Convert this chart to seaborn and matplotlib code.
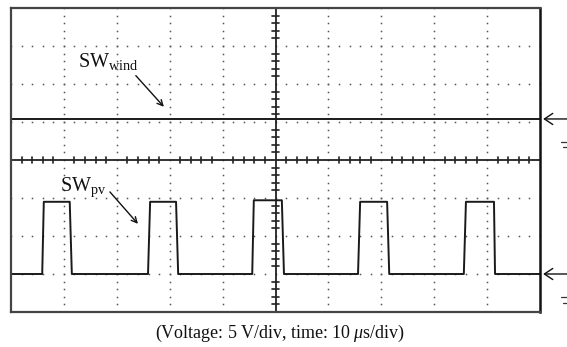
import numpy as np
import matplotlib
matplotlib.use("Agg")
import matplotlib.pyplot as plt
import matplotlib.transforms as mtransforms
import seaborn as sns

sns.set_style("white")
plt.rcParams["font.family"] = ["Liberation Serif", "DejaVu Serif"]
plt.rcParams["mathtext.fontset"] = "custom"
plt.rcParams["mathtext.rm"] = "Liberation Serif"
plt.rcParams["mathtext.it"] = "Liberation Serif:italic"

# Scope settings: 10 us/div over 10 divisions, 5 V/div over 8 divisions
time_per_div = 10.0
volt_per_div = 5.0
n_xdiv = 10
n_ydiv = 8

# Wind-side switching signal (held constant during the capture)
wind_time = [0.0, 100.0]
wind_level = [5.4, 5.4]

# PV-side switching pulses
pv_time = [0.0, 5.9, 6.2, 11.1, 11.5,
           25.9, 26.3, 31.2, 31.6,
           45.6, 45.9, 51.2, 51.6,
           65.6, 66.0, 71.1, 71.5,
           85.6, 86.0, 91.3, 91.5, 100.0]
pv_level = [-15.0, -15.0, -5.5, -5.5, -15.0,
            -15.0, -5.5, -5.5, -15.0,
            -15.0, -5.3, -5.3, -15.0,
            -15.0, -5.5, -5.5, -15.0,
            -15.0, -5.5, -5.5, -15.0, -15.0]

# Channel reference markers on the right edge
ref_levels = [5.4, -15.0]

caption = "(Voltage: 5\u2009V/div, time: 10\u2009$\\mu$s/div)"

W, H = 567, 347
fig = plt.figure(figsize=(W / 100, H / 100), dpi=100)
ax = fig.add_axes([11 / W, 1 - 312 / H, 529 / W, 304 / H])

xmax = time_per_div * n_xdiv
ymax = volt_per_div * n_ydiv / 2
ax.set_xlim(0, xmax)
ax.set_ylim(-ymax, ymax)
ax.set_xticks([])
ax.set_yticks([])

# Dotted graticule
dot_col = "#555555"
xs_major = np.arange(time_per_div, xmax, time_per_div)
ys_major = np.arange(-ymax + volt_per_div, ymax, volt_per_div)
x_fine = np.arange(0, xmax + 0.01, time_per_div / 5)
y_fine = np.arange(-ymax, ymax + 0.01, volt_per_div / 5)
for xv in xs_major:
    if abs(xv - xmax / 2) < 1e-6:
        continue
    ax.plot(np.full_like(y_fine, xv), y_fine, ls="none", marker="s",
            ms=1.1, mew=0, color=dot_col)
for yv in ys_major:
    if abs(yv) < 1e-6:
        continue
    ax.plot(x_fine, np.full_like(x_fine, yv), ls="none", marker="s",
            ms=1.1, mew=0, color=dot_col)

# Centre cross with minor ticks
ax.axhline(0, color="#222222", lw=1.3)
ax.axvline(xmax / 2, color="#222222", lw=1.3)
tick_h = 0.45
tick_w = 0.6
for xv in x_fine:
    if abs(xv / time_per_div - round(xv / time_per_div)) < 1e-6:
        continue
    ax.plot([xv, xv], [-tick_h, tick_h], color="#222222", lw=1.2)
for yv in y_fine:
    if abs(yv / volt_per_div - round(yv / volt_per_div)) < 1e-6:
        continue
    ax.plot([xmax / 2 - tick_w, xmax / 2 + tick_w], [yv, yv],
            color="#222222", lw=1.2)

# Traces
sns.lineplot(x=wind_time, y=wind_level, ax=ax, color="#1a1a1a", lw=1.4,
             estimator=None)
sns.lineplot(x=pv_time, y=pv_level, ax=ax, color="#1a1a1a", lw=1.4,
             estimator=None)

# Frame
for side in ["left", "top", "bottom"]:
    ax.spines[side].set_color("#444444")
    ax.spines[side].set_linewidth(1.6)
ax.spines["right"].set_color("#111111")
ax.spines["right"].set_linewidth(1.8)

# Signal labels with pointers
ax.text(12.7, 12.3, r"SW$_{\mathrm{wind}}$", fontsize=14.5, ha="left",
        va="baseline", color="#111111")
ax.annotate("", xy=(28.9, 7.0), xytext=(23.6, 11.1),
            arrowprops=dict(arrowstyle="->", lw=1.0, color="#111111",
                            shrinkA=0, shrinkB=0))
ax.text(9.3, -4.1, r"SW$_{\mathrm{pv}}$", fontsize=14.5, ha="left",
        va="baseline", color="#111111")
ax.annotate("", xy=(24.0, -8.4), xytext=(18.7, -4.2),
            arrowprops=dict(arrowstyle="->", lw=1.0, color="#111111",
                            shrinkA=0, shrinkB=0))

# Reference arrows and ground marks outside the right edge
blend = mtransforms.blended_transform_factory(ax.transAxes, ax.transData)
for lvl in ref_levels:
    ax.annotate("", xy=(1.006, lvl), xytext=(1.06, lvl),
                xycoords=blend, textcoords=blend,
                arrowprops=dict(arrowstyle="->,head_length=0.6,head_width=0.4",
                                lw=1.0, color="#111111", shrinkA=0, shrinkB=0),
                annotation_clip=False)
    g = lvl - 3.4
    ax.plot([1.040, 1.060], [g + 0.35, g + 0.35], transform=blend,
            color="#333333", lw=0.9, clip_on=False)
    ax.plot([1.044, 1.060], [g - 0.35, g - 0.35], transform=blend,
            color="#333333", lw=0.9, clip_on=False)

fig.text(280 / W, 1 - 333 / H, caption, ha="center", va="center",
         fontsize=13, color="#111111")

fig.savefig("out.png", dpi=100)
